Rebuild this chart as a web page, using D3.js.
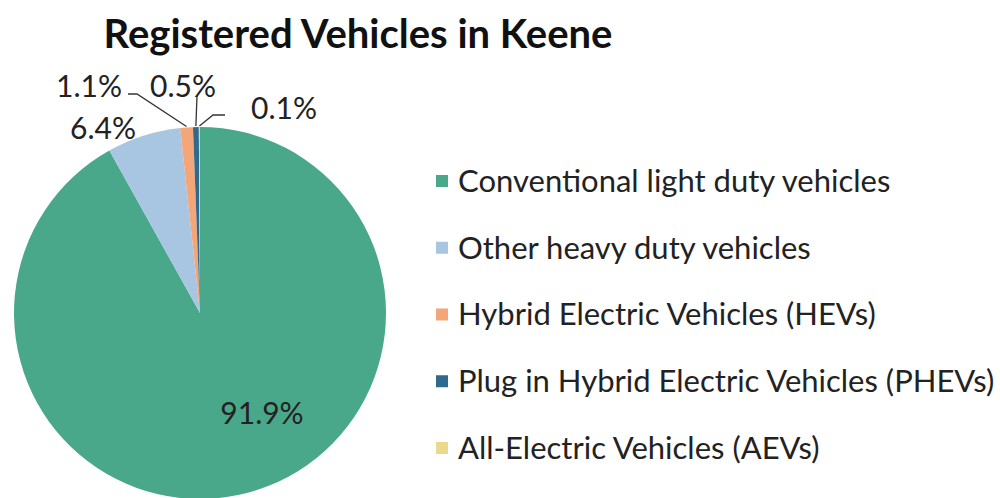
<!DOCTYPE html>
<html>
<head>
<meta charset="utf-8">
<script src="https://cdn.jsdelivr.net/npm/d3@7"></script>
<style>
  body { margin: 0; background: #fff; }
  text { font-family: Lato, "Open Sans", sans-serif; }
</style>
</head>
<body>
<div id="wrapper"></div>
<script>
const categories = [
  "Conventional light duty vehicles",
  "Other heavy duty vehicles",
  "Hybrid Electric Vehicles (HEVs)",
  "Plug in Hybrid Electric Vehicles (PHEVs)",
  "All-Electric Vehicles (AEVs)"
]
const shares = [91.9, 6.4, 1.1, 0.5, 0.1]
const labels = ["91.9%", "6.4%", "1.1%", "0.5%", "0.1%"]
const colors = ["#4aa88a", "#a8c5e2", "#f4a679", "#2e6a8e", "#e8d98c"]

const dimensions = { width: 1000, height: 498 }
const pieCenter = { x: 200, y: 313 }
const radius = 186

const svg = d3.select("#wrapper")
  .append("svg")
  .attr("width", dimensions.width)
  .attr("height", dimensions.height)

svg.append("text")
  .attr("x", 358)
  .attr("y", 48)
  .attr("text-anchor", "middle")
  .attr("font-size", 40)
  .attr("font-weight", 700)
  .attr("fill", "#111")
  .text("Registered Vehicles in Keene")

const pie = d3.pie().sort(null).value(d => d)
const arcs = pie(shares)
const arc = d3.arc().innerRadius(0).outerRadius(radius)

const colorScale = d3.scaleOrdinal().domain(categories).range(colors)

const bounds = svg.append("g")
  .attr("transform", `translate(${pieCenter.x},${pieCenter.y})`)

bounds.selectAll("path.slice")
  .data(arcs)
  .join("path")
  .attr("class", "slice")
  .attr("d", arc)
  .attr("fill", (d, i) => colorScale(categories[i]))

// label placement (offsets from the pie centre) and leader elbows
const labelPos = [
  { x: 62, y: 100, anchor: "middle" },
  { x: -97, y: -185, anchor: "middle" },
  { x: -78, y: -227, anchor: "end" },
  { x: -17, y: -227, anchor: "middle" },
  { x: 84, y: -205, anchor: "middle" }
]
const leaders = [
  null,
  null,
  [[-72, -219], [-63, -219]],
  [[-3, -217]],
  [[25, -198], [13, -198]]
]

const edgePoint = (d, i) => {
  const mid = (d.startAngle + d.endAngle) / 2
  return [Math.sin(mid) * (radius + 1), -Math.cos(mid) * (radius + 1)]
}

arcs.forEach((d, i) => {
  if (leaders[i]) {
    const pts = leaders[i].concat([edgePoint(d, i)])
    bounds.append("path")
      .attr("d", d3.line()(pts))
      .attr("fill", "none")
      .attr("stroke", "#333")
      .attr("stroke-width", 1.3)
  }
  bounds.append("text")
    .attr("x", labelPos[i].x)
    .attr("y", labelPos[i].y)
    .attr("dy", "0.35em")
    .attr("text-anchor", labelPos[i].anchor)
    .attr("font-size", 30)
    .attr("fill", "#222")
    .text(labels[i])
})

// legend
const legendY = d3.scalePoint().domain(categories).range([181, 448])

const legend = svg.append("g")
  .selectAll("g")
  .data(categories)
  .join("g")
  .attr("transform", d => `translate(436,${legendY(d)})`)

legend.append("rect")
  .attr("x", 0)
  .attr("y", -6)
  .attr("width", 12)
  .attr("height", 12)
  .attr("fill", d => colorScale(d))

legend.append("text")
  .attr("x", 22)
  .attr("dy", "0.35em")
  .attr("font-size", 31)
  .attr("fill", "#222")
  .text(d => d)
</script>
</body>
</html>
